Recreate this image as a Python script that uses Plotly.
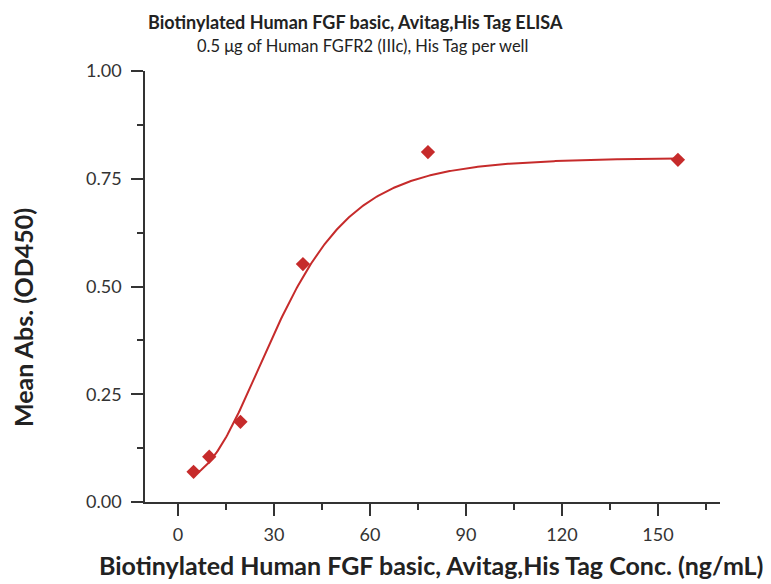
import numpy as np
import plotly.graph_objects as go

# Data
conc = [4.88, 9.77, 19.53, 39.06, 78.13, 156.25]
absorb = [0.070, 0.105, 0.186, 0.552, 0.812, 0.794]

# 5-parameter logistic fit parameters
fit_bottom = 0.055
fit_top = 0.800
fit_c = 47.5
fit_b = 2.3
fit_g = 2.0

x_tick_vals = [0, 30, 60, 90, 120, 150]
y_tick_vals = [0.0, 0.25, 0.5, 0.75, 1.0]
y_tick_text = ["0.00", "0.25", "0.50", "0.75", "1.00"]

title_text = "Biotinylated Human FGF basic, Avitag,His Tag ELISA"
subtitle_text = "0.5 μg of Human FGFR2 (IIIc), His Tag per well"
x_title = "Biotinylated Human FGF basic, Avitag,His Tag Conc. (ng/mL)"
y_title = "Mean Abs. (OD450)"

xf = np.linspace(min(conc), max(conc), 400)
yf = fit_top + (fit_bottom - fit_top) / (1 + (xf / fit_c) ** fit_b) ** fit_g

red = "#c62b2b"
axis_col = "#333333"
font_family = "Lato, 'Open Sans', sans-serif"

# page body has an 8px default margin; plot area in page coords: x 145-720, y 71-502
OFF = 8
L, T = 145 - OFF, 71 - OFF
PW, PH = 575, 431
W, H = 771 - OFF, 584 - OFF


def px(xp):
    return (xp - 145) / PW


def py(yp):
    return (502 - yp) / PH


fig = go.Figure()
fig.add_trace(go.Scatter(x=xf, y=yf, mode="lines",
                         line=dict(color=red, width=2), hoverinfo="skip"))
fig.add_trace(go.Scatter(x=conc, y=absorb, mode="markers",
                         marker=dict(symbol="diamond", size=11, color=red)))

fig.update_layout(
    width=W, height=H,
    margin=dict(l=L, r=W - L - PW, t=T, b=H - T - PH),
    plot_bgcolor="white", paper_bgcolor="white",
    showlegend=False,
    font=dict(family=font_family, color="#222222", size=14),
    xaxis=dict(range=[-10.3, 169.4], tickvals=x_tick_vals,
               showgrid=False, zeroline=False, showline=True,
               linecolor=axis_col, linewidth=1.5, automargin=False,
               ticks="outside", ticklen=12, tickwidth=1.5, tickcolor=axis_col,
               minor=dict(dtick=15, tick0=15, ticks="outside", ticklen=6,
                          tickwidth=1.5, tickcolor=axis_col),
               tickfont=dict(size=18, color="#333333"), ticklabelstandoff=4),
    yaxis=dict(range=[0, 1.0], tickvals=y_tick_vals, ticktext=y_tick_text,
               showgrid=False, zeroline=False, showline=True,
               linecolor=axis_col, linewidth=1.5, automargin=False,
               ticks="outside", ticklen=12, tickwidth=1.5, tickcolor=axis_col,
               minor=dict(dtick=0.125, tick0=0.125, ticks="outside", ticklen=6,
                          tickwidth=1.5, tickcolor=axis_col),
               tickfont=dict(size=18, color="#333333"), ticklabelstandoff=6),
    annotations=[
        dict(text="<b>" + title_text + "</b>", xref="paper", yref="paper",
             x=px(355), y=py(22), showarrow=False,
             font=dict(size=18, color="#222222"), xanchor="center", yanchor="middle"),
        dict(text=subtitle_text, xref="paper", yref="paper",
             x=px(362), y=py(46), showarrow=False,
             font=dict(size=16.5, color="#222222"), xanchor="center", yanchor="middle"),
        dict(text="<b>" + x_title + "</b>", xref="paper", yref="paper",
             x=px(431), y=py(565), showarrow=False,
             font=dict(size=25, color="#222222"), xanchor="center", yanchor="middle"),
        dict(text="<b>" + y_title + "</b>", xref="paper", yref="paper",
             x=px(23), y=py(318), showarrow=False,
             textangle=-90,
             font=dict(size=25, color="#222222"), xanchor="center", yanchor="middle"),
    ],
)

fig.write_html("out.html")
